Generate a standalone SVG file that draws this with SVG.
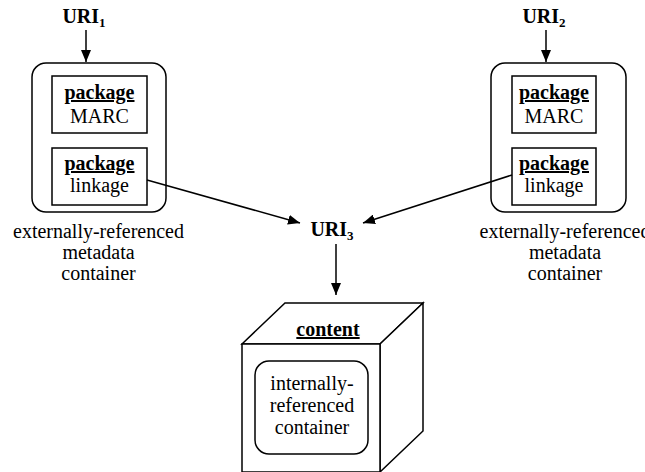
<svg xmlns="http://www.w3.org/2000/svg" width="645" height="472" viewBox="0 0 645 472">
<defs>
<marker id="ah" viewBox="0 0 12 10" refX="12" refY="5" markerWidth="12" markerHeight="10" markerUnits="userSpaceOnUse" orient="auto">
<path d="M0,0 L12,5 L0,10 z" fill="#000"/>
</marker>
</defs>
<rect width="645" height="472" fill="#fff"/>
<g id="uri1" text-anchor="middle" font-size="20" font-weight="bold"><text x="84" y="23" style="font-family:'Liberation Serif',serif !important">URI<tspan font-size="13" dy="4">1</tspan></text></g>
<g id="uri2" text-anchor="middle" font-size="20" font-weight="bold"><text x="544" y="23" style="font-family:'Liberation Serif',serif !important">URI<tspan font-size="13" dy="4">2</tspan></text></g>
<g id="container1" fill="#fff" stroke="#000" stroke-width="1.5">
<rect x="32" y="63" width="134" height="149" rx="14"/>
<rect x="52" y="76" width="95" height="57"/>
<rect x="52" y="148" width="95" height="57"/>
<g fill="#000" stroke="none" text-anchor="middle" font-size="20">
<text x="99.5" y="99" style="font-family:'Liberation Serif',serif !important" font-weight="bold" text-decoration="underline">package</text>
<text x="99.5" y="123" style="font-family:'Liberation Serif',serif !important">MARC</text>
<text x="99.5" y="170" style="font-family:'Liberation Serif',serif !important" font-weight="bold" text-decoration="underline">package</text>
<text x="99.5" y="192" style="font-family:'Liberation Serif',serif !important">linkage</text>
<text x="98.5" y="238" style="font-family:'Liberation Serif',serif !important">externally-referenced</text>
<text x="98.5" y="259" style="font-family:'Liberation Serif',serif !important">metadata</text>
<text x="98.5" y="280" style="font-family:'Liberation Serif',serif !important">container</text>
</g>
</g>
<g id="container2" fill="#fff" stroke="#000" stroke-width="1.5">
<rect x="491" y="63" width="135" height="149" rx="14"/>
<rect x="512" y="76" width="84" height="57"/>
<rect x="512" y="148" width="84" height="57"/>
<g fill="#000" stroke="none" text-anchor="middle" font-size="20">
<text x="554" y="99" style="font-family:'Liberation Serif',serif !important" font-weight="bold" text-decoration="underline">package</text>
<text x="554" y="123" style="font-family:'Liberation Serif',serif !important">MARC</text>
<text x="554" y="170" style="font-family:'Liberation Serif',serif !important" font-weight="bold" text-decoration="underline">package</text>
<text x="554" y="192" style="font-family:'Liberation Serif',serif !important">linkage</text>
<text x="565" y="238" style="font-family:'Liberation Serif',serif !important">externally-referenced</text>
<text x="565" y="259" style="font-family:'Liberation Serif',serif !important">metadata</text>
<text x="565" y="280" style="font-family:'Liberation Serif',serif !important">container</text>
</g>
</g>
<g id="uri3" text-anchor="middle" font-size="20" font-weight="bold"><text x="332" y="236" style="font-family:'Liberation Serif',serif !important">URI<tspan font-size="13" dy="4">3</tspan></text></g>
<g id="content" fill="#fff" stroke="#000" stroke-width="1.5">
<path d="M242,344 L285,303 L423,303 L380,344 Z"/>
<path d="M380,344 L423,303 L423,431 L380,472 Z"/>
<rect x="242" y="344" width="138" height="128"/>
<rect x="255" y="361" width="113" height="93" rx="14"/>
<g fill="#000" stroke="none" text-anchor="middle" font-size="20">
<text x="328" y="336" style="font-family:'Liberation Serif',serif !important" font-weight="bold" text-decoration="underline">content</text>
<text x="312" y="390" style="font-family:'Liberation Serif',serif !important">internally-</text>
<text x="312" y="412" style="font-family:'Liberation Serif',serif !important">referenced</text>
<text x="312" y="434" style="font-family:'Liberation Serif',serif !important">container</text>
</g>
</g>
<g id="connectors" stroke="#000" stroke-width="1.5" fill="none">
<line x1="86" y1="30" x2="86" y2="62" marker-end="url(#ah)"/>
<line x1="546" y1="30" x2="546" y2="62" marker-end="url(#ah)"/>
<line x1="147" y1="180" x2="300" y2="223" marker-end="url(#ah)"/>
<line x1="512" y1="175" x2="363" y2="223" marker-end="url(#ah)"/>
<line x1="336" y1="244" x2="336" y2="295" marker-end="url(#ah)"/>
</g>
</svg>
